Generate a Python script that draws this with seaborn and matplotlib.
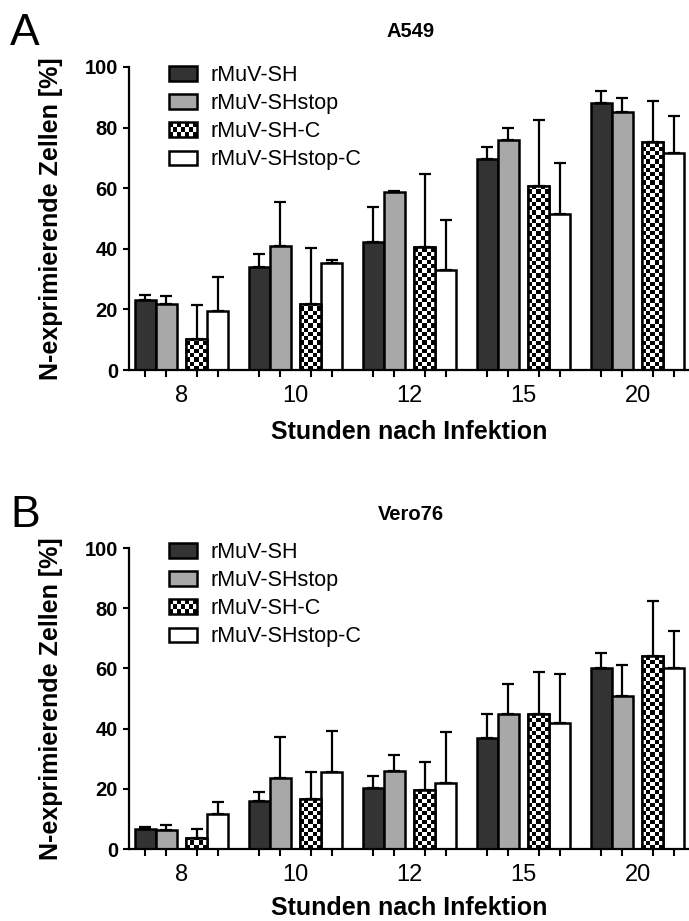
import numpy as np
import pandas as pd
import matplotlib
matplotlib.use("Agg")
import matplotlib.pyplot as plt
import seaborn as sns
from matplotlib.patches import Patch, Rectangle
from matplotlib.colors import ListedColormap
from matplotlib.legend_handler import HandlerBase

# ---------------- data ----------------
times = ["8", "10", "12", "15", "20"]
series = ["rMuV-SH", "rMuV-SHstop", "rMuV-SH-C", "rMuV-SHstop-C"]

a549_sh = [23.2, 33.9, 42.3, 69.6, 88.0]
a549_shstop = [21.9, 40.9, 58.9, 75.9, 85.0]
a549_shc = [10.2, 21.9, 40.6, 60.7, 75.3]
a549_shstopc = [19.6, 35.4, 32.9, 51.5, 71.5]
a549_sh_err = [1.7, 4.4, 11.5, 4.1, 4.1]
a549_shstop_err = [2.4, 14.7, 0.3, 3.9, 4.7]
a549_shc_err = [11.1, 18.4, 24.0, 21.8, 13.5]
a549_shstopc_err = [11.0, 0.8, 16.7, 16.9, 12.3]

vero_sh = [6.5, 16.0, 20.2, 37.0, 60.2]
vero_shstop = [6.3, 23.7, 25.9, 44.9, 50.8]
vero_shc = [3.5, 16.5, 19.6, 44.9, 64.1]
vero_shstopc = [11.5, 25.7, 21.8, 42.0, 60.2]
vero_sh_err = [0.9, 3.0, 4.0, 8.0, 4.8]
vero_shstop_err = [1.7, 13.4, 5.3, 9.9, 10.3]
vero_shc_err = [3.1, 9.0, 9.4, 13.8, 18.3]
vero_shstopc_err = [4.0, 13.5, 17.2, 16.0, 12.2]

yticks = [0, 20, 40, 60, 80, 100]
xlabel = "Stunden nach Infektion"
ylabel = "N-exprimierende Zellen [%]"

# ---------------- style ----------------
sns.set_style("ticks")
plt.rcParams["font.family"] = ["Liberation Sans", "DejaVu Sans"]
plt.rcParams["text.color"] = "black"
plt.rcParams["axes.labelcolor"] = "black"
plt.rcParams["xtick.color"] = "black"
plt.rcParams["ytick.color"] = "black"
plt.rcParams["axes.edgecolor"] = "black"

colors = {"rMuV-SH": "#333333", "rMuV-SHstop": "#a8a8a8",
          "rMuV-SH-C": "#ffffff", "rMuV-SHstop-C": "#ffffff"}
LW = 1.8
BARW = 0.736
GAP = 0.083

fig = plt.figure(figsize=(6.89, 9.21), dpi=100)
W, H = 689.0, 921.0


def make_axes(y0_px, y100_px):
    left = 129 / W
    bottom = 1 - y0_px / H
    height = (y0_px - y100_px) / H
    return fig.add_axes([left, bottom, 1 - left, height])


class CheckerHandler(HandlerBase):
    def create_artists(self, legend, orig_handle, xdescent, ydescent,
                       width, height, fontsize, trans):
        arts = []
        ncols, nrows = 7, 3
        cw, ch = width / ncols, height / nrows
        arts.append(Rectangle((-xdescent, -ydescent), width, height,
                              facecolor="white", edgecolor="none", transform=trans))
        for r in range(nrows):
            for c in range(ncols):
                if (r + c) % 2 == 0:
                    arts.append(Rectangle((-xdescent + c * cw, -ydescent + r * ch), cw, ch,
                                          facecolor="black", edgecolor="none", transform=trans))
        arts.append(Rectangle((-xdescent, -ydescent), width, height, facecolor="none",
                              edgecolor="black", linewidth=LW, transform=trans))
        return arts


def panel(ax, means, errs, title, title_y_px, letter, letter_y_px, leg_top, xlab_y):
    rows = []
    for s, vals in zip(series, means):
        for t, v in zip(times, vals):
            rows.append({"Stunden": t, "Virus": s, "value": v})
    df = pd.DataFrame(rows)
    sns.barplot(data=df, x="Stunden", y="value", hue="Virus", order=times,
                hue_order=series, palette=colors, width=BARW, saturation=1,
                edgecolor="black", linewidth=LW, errorbar=None, legend=False, ax=ax)
    ax.set_xlim(-0.46, 4.45)
    ax.set_ylim(0, 100)

    bar_conts = list(ax.containers)
    centers = []
    for i, cont in enumerate(bar_conts):
        shift = -GAP / 2 if i < 2 else GAP / 2
        xs, tops = [], []
        for p in cont.patches:
            p.set_x(p.get_x() + shift)
            xs.append(p.get_x() + p.get_width() / 2)
            tops.append(p.get_height())
        centers.extend(xs)
        ax.errorbar(xs, tops, yerr=[np.zeros(len(tops)), errs[i]], fmt="none",
                    ecolor="black", elinewidth=1.6, capsize=4.3, capthick=1.6, zorder=3)

    # checkerboard for rMuV-SH-C
    cmap = ListedColormap(["black", "white"])
    for p in bar_conts[2].patches:
        x0, w, h = p.get_x(), p.get_width(), p.get_height()
        q0 = ax.transData.transform((x0, 0))
        q1 = ax.transData.transform((x0 + w, h))
        wpx, hpx = q1[0] - q0[0], q1[1] - q0[1]
        cell = wpx / 5
        nrows = int(np.ceil(hpx / cell)) + 1
        arr = np.indices((nrows, 5)).sum(axis=0) % 2
        im = ax.imshow(arr, cmap=cmap, extent=(x0, x0 + w, 0, nrows * cell * h / hpx),
                       origin="lower", aspect="auto", interpolation="nearest",
                       zorder=1.01)
        im.set_clip_path(p)
        ax.add_patch(Rectangle((x0, 0), w, h, fill=False, edgecolor="black",
                               linewidth=LW, zorder=1.02))
    ax.set_xlim(-0.46, 4.45)
    ax.set_ylim(0, 100)

    # ticks
    ax.set_xticks(sorted(centers))
    ax.set_xticklabels([])
    ax.set_xticks(range(len(times)), minor=True)
    ax.set_xticklabels(times, minor=True)
    ax.tick_params(axis="x", which="major", length=5, width=1.5, color="black")
    ax.tick_params(axis="x", which="minor", length=0, pad=11, labelsize=17,
                   labelcolor="black")
    ax.set_yticks(yticks)
    ax.set_yticklabels([str(v) for v in yticks], fontweight="bold")
    ax.tick_params(axis="y", length=4, width=1.5, pad=4, labelsize=14.5,
                   color="black", labelcolor="black")
    sns.despine(ax=ax)
    for sp in ["left", "bottom"]:
        ax.spines[sp].set_linewidth(1.6)
        ax.spines[sp].set_color("black")

    ax.set_xlabel(xlabel, fontsize=18, fontweight="bold", color="black")
    ax.xaxis.set_label_coords(0.5, xlab_y)
    ax.set_ylabel(ylabel, fontsize=18, fontweight="bold", color="black")
    ax.yaxis.set_label_coords(-0.118, 0.5)

    handles = [Patch(facecolor=colors[s], edgecolor="black", linewidth=LW) for s in series]
    chk = handles[2]
    leg = ax.legend(handles, series, loc="upper left", bbox_to_anchor=(0.0714, leg_top),
                    frameon=False, fontsize=15.5, handlelength=1.3, handleheight=0.65,
                    handletextpad=0.65, labelspacing=0.33, borderpad=0, borderaxespad=0,
                    handler_map={chk: CheckerHandler()})
    for t in leg.get_texts():
        t.set_color("black")

    fig.text(411 / W, 1 - title_y_px / H, title, ha="center", va="baseline",
             fontsize=14.5, fontweight="bold", color="black")
    fig.text(10 / W, 1 - letter_y_px / H, letter, ha="left", va="baseline", fontsize=32,
             color="black")


axA = make_axes(370, 67)
panel(axA, [a549_sh, a549_shstop, a549_shc, a549_shstopc],
      [a549_sh_err, a549_shstop_err, a549_shc_err, a549_shstopc_err],
      "A549", 37, "A", 45, 1.0066, -0.165)

axB = make_axes(849, 548)
panel(axB, [vero_sh, vero_shstop, vero_shc, vero_shstopc],
      [vero_sh_err, vero_shstop_err, vero_shc_err, vero_shstopc_err],
      "Vero76", 520, "B", 527, 1.02, -0.157)

fig.savefig("out.png", dpi=100)
